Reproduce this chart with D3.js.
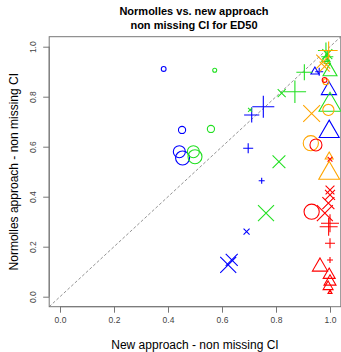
<!DOCTYPE html>
<html>
<head>
<meta charset="utf-8">
<script src="https://cdn.jsdelivr.net/npm/d3@7"></script>
<style>
  body { margin: 0; background: #fff; }
  text { font-family: "Liberation Sans", Arial, sans-serif; }
</style>
</head>
<body>
<div id="chart"></div>
<script>
// Series: [x (new approach), y (Normolles), shape, weight]
const seriesBlue = [
  [0.384, 0.911, "circle", 0.6],
  [0.452, 0.667, "circle", 0.9],
  [0.442, 0.580, "circle", 1.5],
  [0.454, 0.555, "circle", 1.75],
  [0.697, 0.594, "plus", 1.25],
  [0.710, 0.727, "plus", 1.9],
  [0.753, 0.760, "plus", 2.75],
  [0.747, 0.464, "plus", 0.75],
  [0.960, 0.900, "plus", 1.0],
  [0.691, 0.260, "cross", 0.75],
  [0.623, 0.127, "cross", 2.0],
  [0.636, 0.147, "cross", 1.5],
  [0.944, 0.900, "triangle", 1.0],
  [0.996, 0.826, "triangle", 1.9],
  [0.997, 0.660, "triangle", 2.5]
];
const seriesGreen = [
  [0.573, 0.906, "circle", 0.5],
  [0.559, 0.671, "circle", 0.9],
  [0.494, 0.580, "circle", 1.5],
  [0.500, 0.560, "circle", 1.75],
  [0.870, 0.820, "plus", 2.8],
  [0.905, 0.898, "plus", 2.0],
  [0.985, 0.985, "plus", 2.0],
  [0.990, 0.960, "plus", 1.5],
  [0.821, 0.814, "cross", 1.0],
  [0.704, 0.747, "cross", 0.5],
  [0.811, 0.540, "cross", 1.6],
  [0.763, 0.334, "cross", 2.0],
  [0.990, 0.970, "cross", 1.25],
  [1.000, 0.900, "triangle", 1.75],
  [1.000, 0.767, "triangle", 2.75],
  [0.985, 0.950, "triangle", 1.0],
  [0.990, 0.940, "triangle", 0.75]
];
const seriesOrange = [
  [0.929, 0.614, "circle", 1.9],
  [0.994, 0.747, "circle", 1.4],
  [0.985, 0.860, "circle", 0.75],
  [0.932, 0.733, "cross", 2.1],
  [0.975, 0.940, "cross", 1.75],
  [0.980, 0.920, "cross", 1.25],
  [0.995, 0.985, "plus", 2.25],
  [0.997, 0.494, "triangle", 2.6],
  [0.997, 0.560, "triangle", 1.0]
];
const seriesRed = [
  [0.948, 0.607, "circle", 1.5],
  [0.932, 0.340, "circle", 1.9],
  [0.980, 0.867, "circle", 0.6],
  [1.000, 0.427, "cross", 1.1],
  [1.000, 0.407, "cross", 1.25],
  [0.994, 0.374, "cross", 1.5],
  [0.981, 0.334, "cross", 2.0],
  [1.000, 0.550, "cross", 0.6],
  [1.000, 0.294, "plus", 2.25],
  [0.995, 0.280, "plus", 2.25],
  [1.000, 0.214, "plus", 1.25],
  [1.000, 0.147, "plus", 0.75],
  [0.963, 0.120, "triangle", 1.9],
  [0.997, 0.087, "triangle", 1.5],
  [1.000, 0.060, "triangle", 1.5],
  [0.993, 0.040, "triangle", 1.25],
  [1.000, 0.018, "triangle", 0.5]
];
const seriesNames = ["blue", "green", "orange", "red"];
const seriesColors = ["#0000ff", "#22e022", "#ffa500", "#ff0000"];
const tickValues = [0, 0.2, 0.4, 0.6, 0.8, 1.0];

const titleLines = ["Normolles vs. new approach", "non missing CI for ED50"];
const xLabel = "New approach - non missing CI";
const yLabel = "Normolles approach - non missing CI";

const width = 341, height = 352;
const margin = { top: 36.7, right: 0.2, bottom: 45.3, left: 49.2 };

const svg = d3.select("#chart").append("svg")
  .attr("width", width)
  .attr("height", height);

svg.append("rect").attr("width", width).attr("height", height).attr("fill", "#fff");

// R style: axis range extended 4% on each side
const x = d3.scaleLinear().domain([-0.04, 1.04]).range([margin.left, width - margin.right]);
const y = d3.scaleLinear().domain([-0.04, 1.04]).range([height - margin.bottom, margin.top]);
const size = d3.scaleLinear().domain([0, 1]).range([0, 4]);
const color = d3.scaleOrdinal().domain(seriesNames).range(seriesColors);

// clip to plot area
svg.append("defs").append("clipPath").attr("id", "plotclip")
  .append("rect")
  .attr("x", x(-0.04)).attr("y", y(1.04))
  .attr("width", x(1.04) - x(-0.04)).attr("height", y(-0.04) - y(1.04));

// title
svg.append("g").selectAll("text")
  .data(titleLines)
  .enter().append("text")
  .attr("x", 194)
  .attr("y", (d, i) => 15 + i * 14)
  .attr("text-anchor", "middle")
  .attr("font-size", "11px")
  .attr("font-weight", "bold")
  .attr("fill", "#000")
  .text(d => d);

// axes
const xAxis = svg.append("g")
  .attr("transform", `translate(0,${y(-0.04)})`)
  .call(d3.axisBottom(x).tickValues(tickValues).tickSize(6).tickPadding(4).tickFormat(d3.format(".1f")));
xAxis.select(".domain").attr("d", `M${x(0)},0H${x(1)}`).attr("stroke", "#777");
xAxis.selectAll(".tick line").attr("stroke", "#777");
xAxis.selectAll(".tick text").attr("font-size", "8.5px").attr("fill", "#444")
  .attr("font-family", "Liberation Sans, Arial, sans-serif");

const yAxis = svg.append("g")
  .attr("transform", `translate(${x(-0.04)},0)`)
  .call(d3.axisLeft(y).tickValues(tickValues).tickSize(6).tickFormat(d3.format(".1f")));
yAxis.select(".domain").attr("d", `M0,${y(0)}V${y(1)}`).attr("stroke", "#777");
yAxis.selectAll(".tick line").attr("stroke", "#777");
yAxis.selectAll(".tick text")
  .attr("font-size", "8.5px").attr("fill", "#444")
  .attr("font-family", "Liberation Sans, Arial, sans-serif")
  .attr("x", null).attr("dy", null)
  .attr("text-anchor", "middle")
  .attr("transform", "translate(-13.5,0) rotate(-90)");

// box
svg.append("rect")
  .attr("x", x(-0.04)).attr("y", y(1.04))
  .attr("width", x(1.04) - x(-0.04)).attr("height", y(-0.04) - y(1.04))
  .attr("fill", "none").attr("stroke", "#777").attr("stroke-width", 1);

// axis labels
svg.append("text")
  .attr("x", 195).attr("y", 349)
  .attr("text-anchor", "middle")
  .attr("font-size", "12px")
  .attr("fill", "#000")
  .text(xLabel);

svg.append("text")
  .attr("transform", `translate(18,${(y(0) + y(1)) / 2}) rotate(-90)`)
  .attr("text-anchor", "middle")
  .attr("font-size", "12px")
  .attr("fill", "#000")
  .text(yLabel);

const plot = svg.append("g").attr("clip-path", "url(#plotclip)");

// identity line
plot.append("line")
  .attr("x1", x(-0.04)).attr("y1", y(-0.04))
  .attr("x2", x(1.04)).attr("y2", y(1.04))
  .attr("stroke", "#777").attr("stroke-width", 0.8)
  .attr("stroke-dasharray", "3,2");

// symbol paths (R pch 1,2,3,4)
const symbolPath = (shape, r) => {
  if (shape === "triangle") {
    return `M0,${-1.155 * r}L${r},${0.577 * r}L${-r},${0.577 * r}Z`;
  }
  if (shape === "plus") {
    return `M${-r},0H${r}M0,${-r}V${r}`;
  }
  if (shape === "cross") {
    return `M${-r},${-r}L${r},${r}M${-r},${r}L${r},${-r}`;
  }
  return `M${r},0A${r},${r} 0 1,1 ${-r},0A${r},${r} 0 1,1 ${r},0Z`;
};

const allSeries = [seriesBlue, seriesGreen, seriesOrange, seriesRed];

allSeries.forEach((pts, i) => {
  plot.append("g")
    .attr("class", "series-" + seriesNames[i])
    .selectAll("path")
    .data(pts)
    .enter().append("path")
    .attr("transform", d => `translate(${x(d[0])},${y(d[1])})`)
    .attr("d", d => symbolPath(d[2], size(d[3])))
    .attr("fill", "none")
    .attr("stroke", color(seriesNames[i]))
    .attr("stroke-width", 1.1);
});
</script>
</body>
</html>
